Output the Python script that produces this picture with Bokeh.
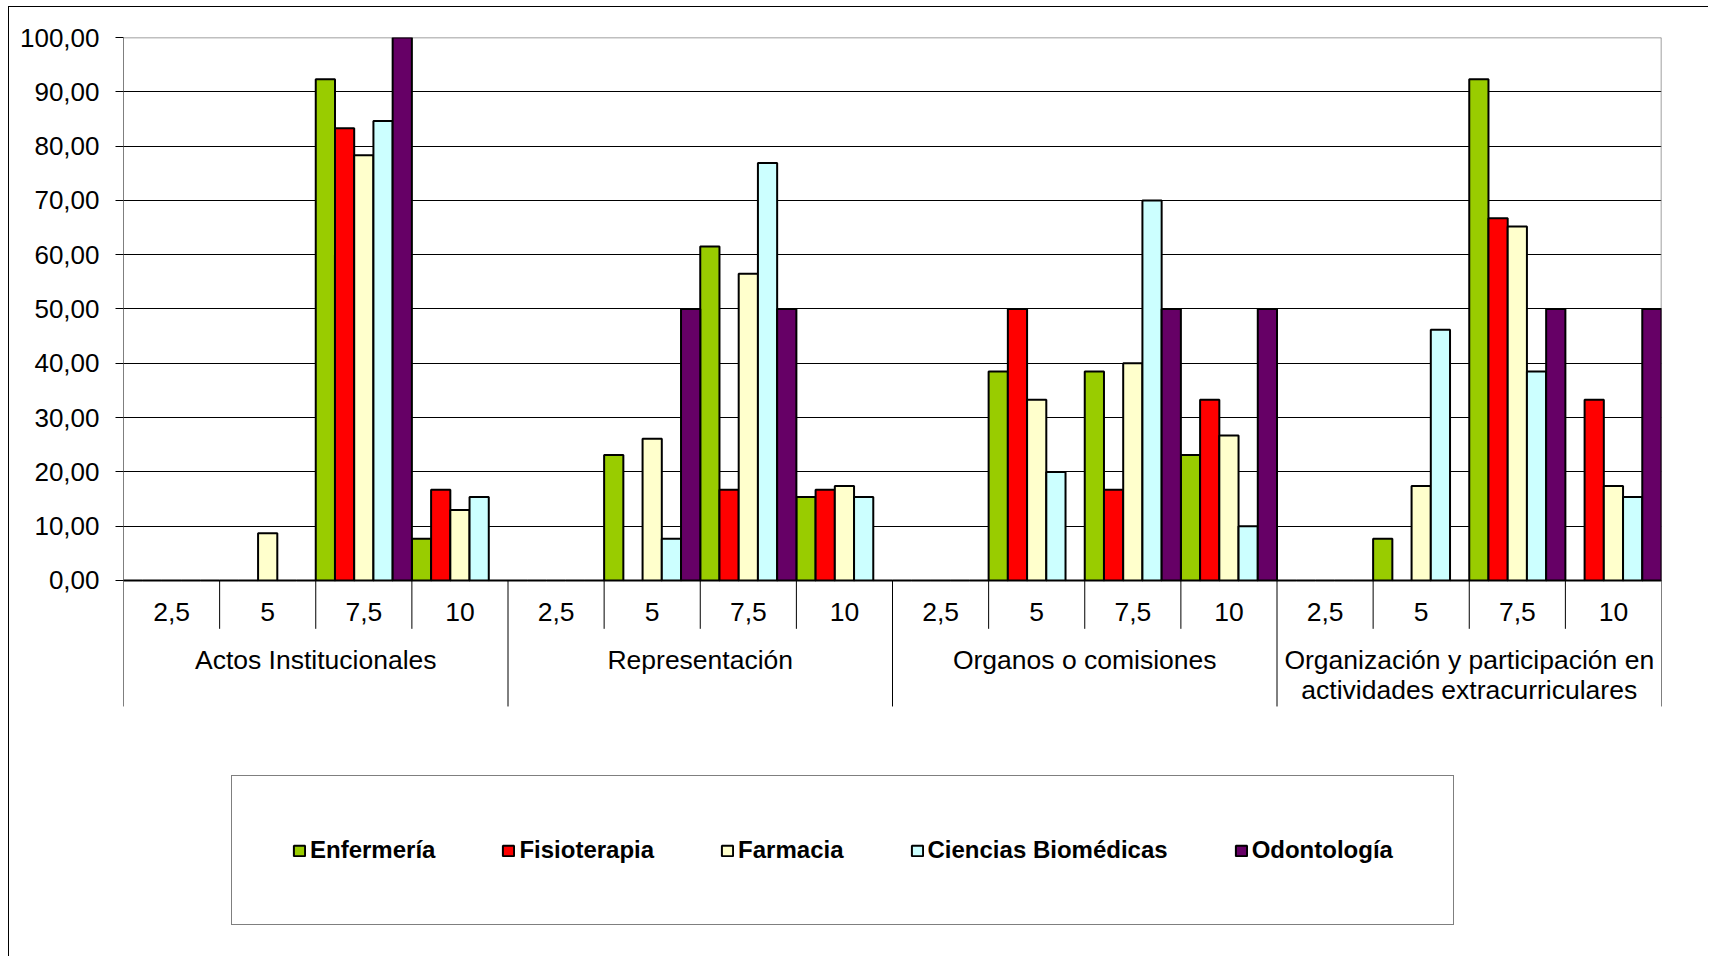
from bokeh.plotting import figure
from bokeh.models import (ColumnDataSource, FactorRange, Range1d, FixedTicker,
                          CustomJSTickFormatter, Legend, LegendItem)
from bokeh.transform import dodge
from bokeh.core.properties import value
from bokeh.embed import file_html
from bokeh.resources import INLINE

groups = ["Actos Institucionales", "Representación", "Organos o comisiones",
          "Organización y participación en\nactividades extracurriculares"]
subs = ["2,5", "5", "7,5", "10"]
series_names = ["Enfermería", "Fisioterapia", "Farmacia", "Ciencias Biomédicas", "Odontología"]
colors = ["#99CC00", "#FF0000", "#FFFFCC", "#CCFFFF", "#660066"]

enfermeria = [0, 0, 92.3, 7.7, 0, 23.1, 61.5, 15.4, 0, 38.5, 38.5, 23.1, 0, 7.7, 92.3, 0]
fisioterapia = [0, 0, 83.3, 16.7, 0, 0, 16.7, 16.7, 0, 50.0, 16.7, 33.3, 0, 0, 66.7, 33.3]
farmacia = [0, 8.7, 78.3, 13.0, 0, 26.1, 56.5, 17.4, 0, 33.3, 40.0, 26.7, 0, 17.4, 65.2, 17.4]
ciencias = [0, 0, 84.6, 15.4, 0, 7.7, 76.9, 15.4, 0, 20.0, 70.0, 10.0, 0, 46.2, 38.5, 15.4]
odontologia = [0, 0, 100.0, 0, 0, 50.0, 50.0, 0, 0, 0, 50.0, 50.0, 0, 0, 50.0, 50.0]
y_ticks = [0, 10, 20, 30, 40, 50, 60, 70, 80, 90, 100]

factors = [(g, s) for g in groups for s in subs]
series = [enfermeria, fisioterapia, farmacia, ciencias, odontologia]
keys = ["enf", "fis", "far", "cb", "odo"]

data = {"x": factors}
for k, s in zip(keys, series):
    data[k] = s
source = ColumnDataSource(data)

FONT = "Liberation Sans"
AXIS_BOTTOM = -23.2

p = figure(x_range=FactorRange(*factors, factor_padding=0, group_padding=0, range_padding=0),
           y_range=Range1d(-69.43, 100), width=1700, height=950,
           output_backend="svg", toolbar_location=None,
           min_border_left=114, min_border_right=48, min_border_top=30, min_border_bottom=0)
p.styles = {"margin-left": "8px", "margin-top": "6px",
            "border-left": "1px solid #000", "border-top": "1px solid #000"}
p.outline_line_color = None
p.background_fill_color = "white"
p.border_fill_color = "white"
p.xaxis.visible = False
p.xgrid.visible = False

p.yaxis.ticker = FixedTicker(ticks=y_ticks)
p.yaxis.formatter = CustomJSTickFormatter(code="return tick.toFixed(2).replace('.', ',');")
p.yaxis.major_label_text_font = FONT
p.yaxis.major_label_text_font_size = "26px"
p.yaxis.major_label_text_color = "black"
p.yaxis.major_tick_out = 8
p.yaxis.major_tick_in = 0
p.yaxis.minor_tick_line_color = None
p.yaxis.major_label_standoff = 16
p.yaxis.axis_line_color = None
p.yaxis.major_tick_line_color = "black"
p.ygrid.ticker = FixedTicker(ticks=y_ticks[:-1])
p.ygrid.grid_line_color = "black"
p.ygrid.grid_line_width = 1

first = ColumnDataSource({"x": [factors[0]]})
last = ColumnDataSource({"x": [factors[-1]]})
# plot-area top and right border (grey)
p.segment(x0=dodge("x", -0.5, range=p.x_range), x1=dodge("x", 16 - 0.5, range=p.x_range),
          y0=y_ticks[-1], y1=y_ticks[-1], source=first, line_color="#808080", line_width=1.5)
p.segment(x0=dodge("x", 0.5, range=p.x_range), x1=dodge("x", 0.5, range=p.x_range),
          y0=0, y1=y_ticks[-1], source=last, line_color="#808080", line_width=1.5)

offsets = [-0.4, -0.2, 0.0, 0.2, 0.4]
items = []
for k, name, c, off in zip(keys, series_names, colors, offsets):
    r = p.vbar(x=dodge("x", off, range=p.x_range), top=k, width=0.2, bottom=0, source=source,
               fill_color=c, line_color="black", line_width=2)
    items.append(LegendItem(label=name, renderers=[r]))

# value axis line (left), running down through the category label area
p.segment(x0=dodge("x", -0.5, range=p.x_range), x1=dodge("x", -0.5, range=p.x_range),
          y0=y_ticks[-1], y1=AXIS_BOTTOM, source=first, line_color="black", line_width=1)

# category separators below the value axis
sub_sep = ColumnDataSource({"x": [(g, s) for g in groups for s in subs[1:]]})
p.segment(x0=dodge("x", -0.5, range=p.x_range), x1=dodge("x", -0.5, range=p.x_range),
          y0=0, y1=-8.9, source=sub_sep, line_color="black", line_width=1)
grp_sep = ColumnDataSource({"x": [(g, subs[0]) for g in groups[1:]]})
p.segment(x0=dodge("x", -0.5, range=p.x_range), x1=dodge("x", -0.5, range=p.x_range),
          y0=0, y1=AXIS_BOTTOM, source=grp_sep, line_color="black", line_width=1)
p.segment(x0=dodge("x", 0.5, range=p.x_range), x1=dodge("x", 0.5, range=p.x_range),
          y0=0, y1=AXIS_BOTTOM, source=last, line_color="black", line_width=1)

# category labels
sub_lab = ColumnDataSource({"x": factors, "t": [s for g in groups for s in subs]})
p.text(x="x", y=-5.84, text="t", source=sub_lab, text_font=value(FONT),
       text_font_size="26.5px", text_align="center", text_baseline="middle", text_color="black")
grp_lab = ColumnDataSource({"x": groups, "t": groups})
p.text(x="x", y=-11.85, text="t", source=grp_lab, text_font=value(FONT),
       text_font_size="26.5px", text_align="center", text_baseline="top", text_color="black",
       text_line_height=1.0)

legend = Legend(items=items, orientation="horizontal", location=(108, 32),
                padding=60, spacing=66, margin=0,
                glyph_width=14, glyph_height=13, label_standoff=4,
                label_text_font=FONT, label_text_font_style="bold",
                label_text_font_size="24px", label_text_color="black",
                border_line_color="black", border_line_width=1.5,
                background_fill_color="white", background_fill_alpha=1)
p.add_layout(legend, "center")

open("out.html", "w").write(file_html(p, INLINE))
